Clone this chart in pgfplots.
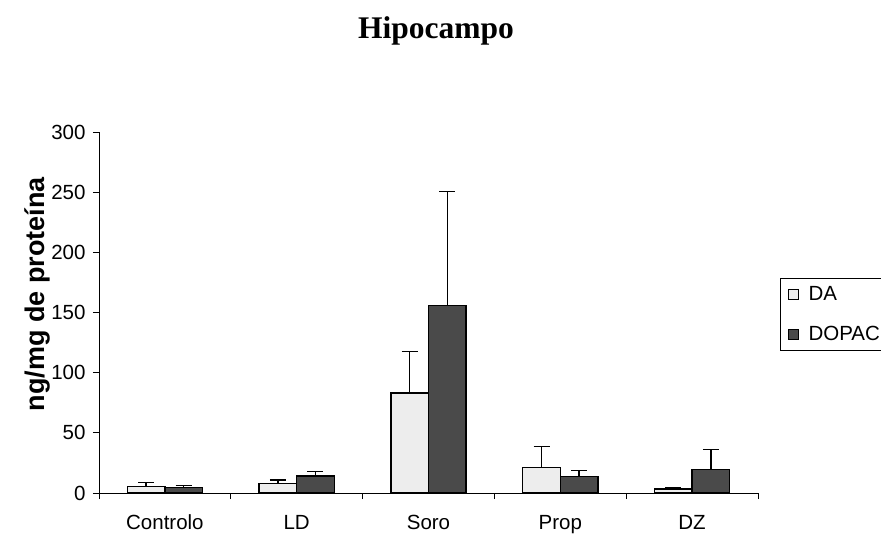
\documentclass[border=0pt]{standalone}
\usepackage{fontspec}
\setmainfont{Liberation Sans}
\newfontfamily\titlefont{Liberation Serif}
\usepackage{pgfplots}
\pgfplotsset{compat=1.18}
\definecolor{daFill}{HTML}{EDEDED}
\definecolor{dopacFill}{HTML}{4A4A4A}
\begin{document}
\begin{tikzpicture}
\useasboundingbox (0pt,0pt) rectangle (881pt,536pt);
\node[font=\titlefont\bfseries\fontsize{31.5}{36}\selectfont] at (436pt,505pt) {Hipocampo};
\node[rotate=90, font=\bfseries\fontsize{27}{30}\selectfont] at (37pt,242pt) {ng/mg de proteína};
\begin{axis}[
  at={(99pt,43pt)}, anchor=south west,
  scale only axis, width=659pt, height=361pt,
  xmin=-0.5, xmax=4.5, ymin=0, ymax=300,
  axis x line*=bottom, axis y line*=left,
  axis line style={-, line width=0.8pt},
  ytick={0,50,...,300},
  xtick={0,1,2,3,4},
  xticklabels={Controlo,LD,Soro,Prop,DZ},
  minor xtick={-0.5,0.5,1.5,2.5,3.5,4.5},
  major x tick style={draw=none},
  tick align=outside,
  major tick length=6pt, minor tick length=6pt,
  every tick/.style={black, line width=0.8pt},
  minor tick style={black, line width=0.8pt},
  /pgf/number format/assume math mode=true,
  ticklabel style={font=\fontsize{20.5}{24}\selectfont},
  yticklabel style={xshift=-4pt},
  xticklabel style={text height=15pt, text depth=4pt, yshift=-12pt},
  ybar, bar width=0.285,
  legend style={at={(1.0334,0.595)}, anchor=north west, draw=black, line width=0.8pt,
    font=\fontsize{20.5}{24}\selectfont, row sep=20pt, inner xsep=8pt, inner ysep=6pt,
    cells={anchor=west}},
  legend image code/.code={\draw[#1, line width=0.8pt] (0pt,-5pt) rectangle (10pt,5pt); \path (17pt,0pt);},
]
\addplot[fill=daFill, draw=black, line width=1.4pt, bar shift=-0.1425,
  error bars/.cd, y dir=plus, y explicit,
  error bar style={line width=1.5pt, black},
  error mark options={rotate=90, line width=1.5pt, mark size=8pt, black}]
  coordinates {(0,5.2) +- (0,3.7) (1,8.0) +- (0,2.8) (2,83) +- (0,34.5) (3,21.3) +- (0,17.2) (4,3.3) +- (0,1.4)};
\addlegendentry{DA}
\addplot[fill=dopacFill, draw=black, line width=1.4pt, bar shift=0.1425,
  error bars/.cd, y dir=plus, y explicit,
  error bar style={line width=1.5pt, black},
  error mark options={rotate=90, line width=1.5pt, mark size=8pt, black}]
  coordinates {(0,4.7) +- (0,1.7) (1,14.2) +- (0,3.6) (2,156) +- (0,94.5) (3,13.6) +- (0,5.0) (4,19.7) +- (0,16.6)};
\addlegendentry{DOPAC\hspace{40pt}}
\end{axis}
\end{tikzpicture}
\end{document}
